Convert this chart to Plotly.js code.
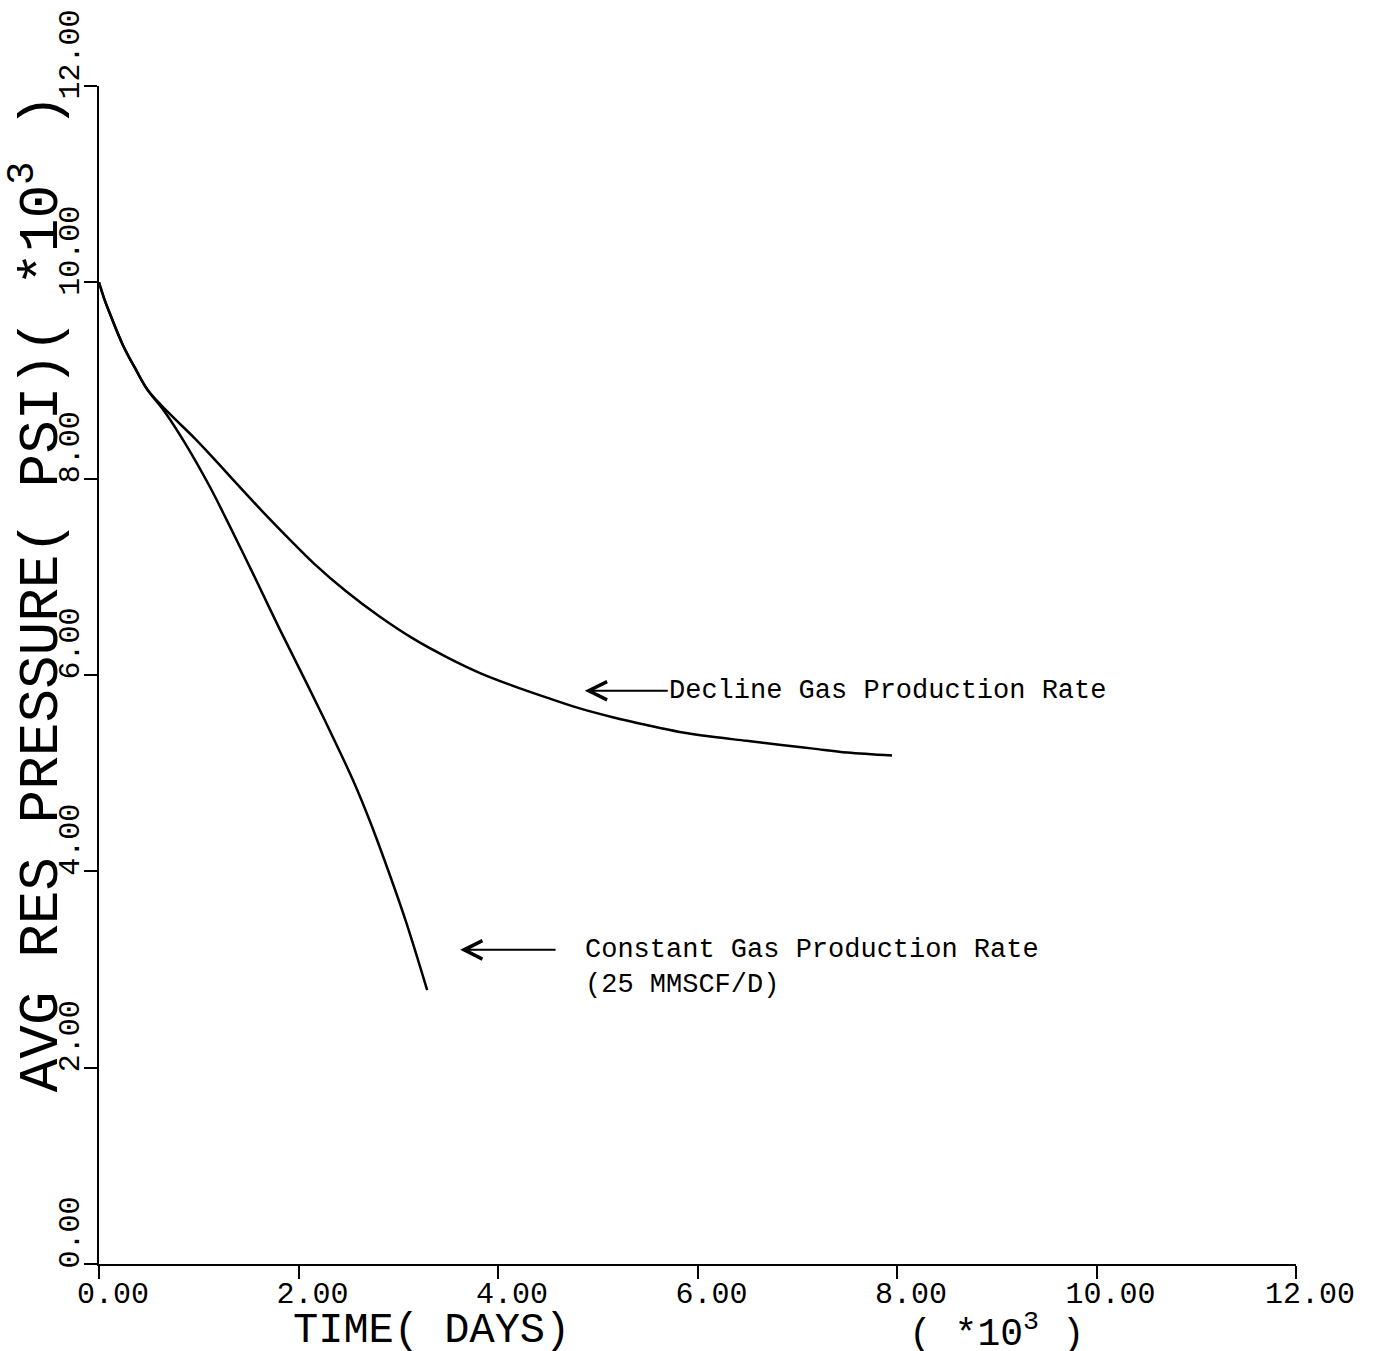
<!DOCTYPE html>
<html>
<head>
<meta charset="utf-8">
<script src="https://cdn.plot.ly/plotly-3.0.1.min.js"></script>
<style>html,body{margin:0;padding:0;background:#fff;}</style>
</head>
<body>
<div id="chart" style="width:1390px;height:1351px;"></div>
<script>
// Time (days, x10^3) and average reservoir pressure (psi, x10^3)
const declineTime = [0, 0.05, 0.11, 0.24, 0.37, 0.49, 0.70, 0.96, 1.20, 1.47, 1.70, 1.95, 2.15, 2.48, 2.82, 3.15, 3.49, 3.82, 4.15, 4.49, 4.82, 5.15, 5.49, 5.82, 6.15, 6.49, 6.82, 7.16, 7.50, 7.95];
const declinePressure = [10.0, 9.84, 9.68, 9.36, 9.11, 8.90, 8.67, 8.41, 8.15, 7.85, 7.60, 7.34, 7.14, 6.85, 6.59, 6.37, 6.18, 6.02, 5.89, 5.77, 5.66, 5.57, 5.49, 5.42, 5.37, 5.33, 5.29, 5.25, 5.21, 5.18];

const constantTime = [0, 0.05, 0.11, 0.24, 0.37, 0.49, 0.66, 0.87, 1.11, 1.28, 1.55, 1.81, 2.08, 2.32, 2.55, 2.72, 2.92, 3.08, 3.29];
const constantPressure = [10.0, 9.84, 9.68, 9.36, 9.11, 8.90, 8.68, 8.35, 7.92, 7.58, 7.02, 6.47, 5.92, 5.42, 4.92, 4.50, 3.95, 3.48, 2.79];

const tickValues = [0, 2, 4, 6, 8, 10, 12];
const xTitle = "TIME( DAYS)";
const xScale = "( *10<sup>3</sup> )";
const yTitle = "AVG RES PRESSURE( PSI)( *10<sup>3</sup> )";
const declineLabel = "Decline Gas Production Rate";
const constantLabel = "Constant Gas Production Rate";
const constantSub = "(25 MMSCF/D)";

const plotFont = "Liberation Mono, DejaVu Sans Mono, monospace";

const traces = [
  {x: declineTime, y: declinePressure, mode: "lines", name: "Decline",
   line: {color: "#000", width: 2.5, shape: "spline", smoothing: 1}, showlegend: false, hoverinfo: "skip"},
  {x: constantTime, y: constantPressure, mode: "lines", name: "Constant",
   line: {color: "#000", width: 2.5, shape: "spline", smoothing: 1}, showlegend: false, hoverinfo: "skip"}
];

const axisCommon = {
  range: [0, 12],
  tickvals: tickValues,
  tickformat: ".2f",
  ticks: "outside",
  ticklen: 13,
  tickwidth: 2,
  tickcolor: "#000",
  showline: true,
  linecolor: "#000",
  linewidth: 2,
  showgrid: false,
  zeroline: false,
  mirror: false,
  tickfont: {family: plotFont, size: 30, color: "#000"}
};

const layout = {
  width: 1390,
  height: 1351,
  margin: {l: 99, r: 94, t: 86, b: 87},
  paper_bgcolor: "#fff",
  plot_bgcolor: "#fff",
  showlegend: false,
  xaxis: Object.assign({}, axisCommon, {ticklabelshift: 14, ticklabelstandoff: -12}),
  yaxis: Object.assign({}, axisCommon, {tickangle: -90, ticklabelshift: -27, ticklabelstandoff: -7}),
  annotations: [
    {xref: "x", yref: "paper", x: 3.33, y: -0.057, text: xTitle, showarrow: false,
     xanchor: "center", yanchor: "middle", font: {family: plotFont, size: 42, color: "#000"}},
    {xref: "x", yref: "paper", x: 9.0, y: -0.057, text: xScale, showarrow: false,
     xanchor: "center", yanchor: "middle", font: {family: plotFont, size: 38, color: "#000"}},
    {xref: "paper", yref: "y", x: -0.052, y: 6.83, text: yTitle, showarrow: false, textangle: -90,
     xanchor: "center", yanchor: "middle", font: {family: plotFont, size: 56, color: "#000"}},
    {xref: "x", yref: "y", x: 4.87, y: 5.84, text: declineLabel, showarrow: true,
     ax: 303, ay: 0, arrowhead: 5, arrowsize: 1.8, arrowwidth: 2, arrowcolor: "#000",
     font: {family: plotFont, size: 27, color: "#000"}},
    {xref: "x", yref: "y", x: 3.62, y: 3.20, text: constantLabel, showarrow: true,
     ax: 352, ay: 0, arrowhead: 5, arrowsize: 1.8, arrowwidth: 2, arrowcolor: "#000", startstandoff: 28,
     font: {family: plotFont, size: 27, color: "#000"}},
    {xref: "x", yref: "y", x: 4.85, y: 2.84, text: constantSub, showarrow: false,
     xanchor: "left", yanchor: "middle", font: {family: plotFont, size: 27, color: "#000"}}
  ]
};

Plotly.newPlot("chart", traces, layout, {staticPlot: true, displayModeBar: false});
</script>
</body>
</html>
